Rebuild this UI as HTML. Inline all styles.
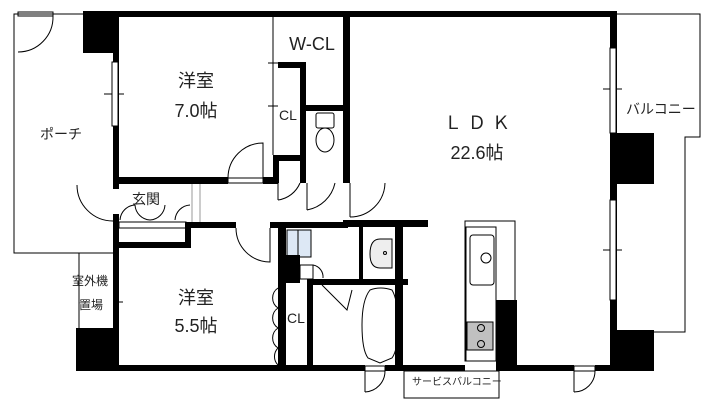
<!DOCTYPE html>
<html><head><meta charset="utf-8"><style>
body{margin:0;background:#fff;}
svg{display:block;}
text{font-family:"Liberation Sans","Noto Sans CJK JP",sans-serif;fill:#222;}
</style></head><body>
<svg width="713" height="410" viewBox="0 0 713 410" xmlns="http://www.w3.org/2000/svg">
<rect width="713" height="410" fill="#fff"/>
<g fill="none" stroke="#000" stroke-width="1">
 <!-- porch outline -->
 <path d="M83 14 H14 V253 H113"/>
 <path d="M79 253 V330"/>
 <!-- balcony outline -->
 <path d="M617 14 H700 V137 H685 V332 H654"/>
 <!-- service balcony -->
 <rect x="404" y="371" width="95" height="27"/>
 <!-- porch door -->
 <rect x="18" y="12" width="35" height="4"/>
 <path d="M18 52 A35 35 0 0 0 53 16"/>
 <!-- entry doors -->
 <path d="M77 185 A36 36 0 0 0 113 221"/>
 <!-- 7.0 door -->
 <rect x="228" y="178" width="35" height="5" fill="#fff"/>
 <path d="M228 178 A35 35 0 0 1 263 143 V178"/>
 <!-- 5.5 door -->
 <path d="M236 228 A34 34 0 0 0 270 262 V228"/>
 <!-- hallway doors -->
 <path d="M278 200 V183 M278 200 A28 28 0 0 0 300 183"/>
 <path d="M307 210 V183 M307 210 A35 35 0 0 0 335 183"/>
 <path d="M350 217 V183 M350 217 A35 35 0 0 0 385 183"/>
 <path d="M200 183 V222 M192 183 V222" stroke="#999"/>
 <!-- genkan shoe doors -->
 <path d="M120 220 A16 16 0 0 1 135 205 M165 205 A16 16 0 0 1 150 220 M150 220 A16 16 0 0 1 135 205 M175 220 A16 16 0 0 1 190 205"/>
 <rect x="119" y="222" width="67" height="6"/>
 <!-- W-CL thin line -->
 <path d="M273 17 V155"/>
 <path d="M268 63 H278 M268 106 H278"/>
 <!-- window ticks -->
 <path d="M104 94 H124 M603 89 H622 M603 250 H622 M113 302 H123"/>
 <!-- CL closet doors 5.5 -->
 <path d="M285 288 V365 M278 328 H285"/>
 <path d="M278 288 A12 12 0 0 0 278 308 M278 308 A12 12 0 0 0 278 328 M278 328 A12 12 0 0 0 278 348 M278 348 A12 12 0 0 0 278 365"/>
 <!-- kitchen -->
 <rect x="465" y="221" width="50" height="140"/>
 <rect x="466" y="227" width="30" height="134"/>
 <rect x="470" y="235" width="24" height="50" rx="3"/>
 <circle cx="486" cy="258" r="5"/>
 <rect x="467" y="322" width="26" height="28" fill="#c0c0c0"/>
 <circle cx="481" cy="328" r="3.5"/><circle cx="481" cy="344" r="3.5"/>
 <!-- wash basin -->
 <path d="M380 239 H392 V268 H380 Q370 268 370 254 Q370 239 380 239Z" fill="#eee"/>
 <circle cx="385" cy="253" r="1.5"/>
 <!-- bath -->
 <path d="M370 290 Q380 286 392 290 Q398 300 398 325 Q398 350 392 358 L380 363 L368 358 Q362 350 362 325 Q362 300 370 290Z"/>
 <!-- bath door -->
 <path d="M322 285 L347 310 L352 290"/>
 <!-- toilet -->
 <rect x="316" y="113" width="18" height="15" rx="2"/>
 <ellipse cx="325" cy="140" rx="9" ry="12"/>
 <!-- washer -->
 <rect x="287" y="230" width="24" height="27" fill="#dde8f5"/>
 <path d="M298 230 V257 M311 232 V257"/>
 <rect x="300" y="265" width="13" height="14"/>
 <path d="M313 265 A12 12 0 0 1 323 278"/>
 <!-- bottom doors -->
 <rect x="365" y="366" width="20" height="5" fill="#fff"/>
 <path d="M365 392 V371 M365 392 A21 21 0 0 0 385 371"/>
 <rect x="574" y="366" width="21" height="5" fill="#fff"/>
 <path d="M574 392 V371 M574 392 A21 21 0 0 0 595 371"/>
</g>
<g fill="#000">
 <!-- outer top wall -->
 <rect x="83" y="11" width="534" height="6"/>
 <rect x="83" y="11" width="35" height="42"/>
 <!-- left wall upper -->
 <rect x="113" y="11" width="6" height="178"/>
 <!-- 7.0 bottom wall -->
 <rect x="113" y="177" width="115" height="7"/>
 <rect x="263" y="177" width="15" height="7"/>
 <!-- CL walls -->
 <rect x="278" y="62" width="28" height="6"/>
 <rect x="300" y="62" width="6" height="121"/>
 <rect x="305" y="105" width="45" height="6"/>
 <rect x="273" y="155" width="32" height="6"/>
 <rect x="273" y="155" width="6" height="28"/>
 <rect x="343" y="11" width="7" height="172"/>
 <!-- genkan walls -->
 <rect x="113" y="214" width="6" height="157"/>
 <rect x="119" y="242" width="72" height="6"/>
 <rect x="185" y="222" width="6" height="26"/>
 <rect x="185" y="222" width="51" height="6"/>
 <rect x="270" y="222" width="78" height="6"/>
 <!-- 5.5 right walls -->
 <rect x="278" y="222" width="8" height="143"/>
 <rect x="278" y="255" width="22" height="28"/>
 <rect x="307" y="279" width="6" height="86"/>
 <rect x="307" y="279" width="101" height="6"/>
 <rect x="343" y="220" width="85" height="7"/>
 <rect x="395" y="227" width="8" height="144"/>
 <rect x="359" y="227" width="4" height="55"/>
 <!-- bottom -->
 <rect x="76" y="328" width="42" height="43"/>
 <rect x="76" y="365" width="289" height="6"/>
 <rect x="385" y="365" width="80" height="6"/>
 <rect x="496" y="300" width="21" height="71"/>
 <rect x="496" y="365" width="78" height="6"/>
 <rect x="595" y="365" width="17" height="6"/>
 <!-- right wall -->
 <rect x="610" y="11" width="7" height="360"/>
 <rect x="612" y="133" width="42" height="51"/>
 <rect x="612" y="330" width="42" height="41"/>
</g>
<!-- windows -->
<g fill="#fff" stroke="#000">
 <rect x="112" y="62" width="6" height="64"/>
 <rect x="610" y="48" width="6" height="85"/>
 <rect x="610" y="200" width="6" height="100"/>
</g>
<g font-size="18" text-anchor="middle">
 <text x="196" y="87">洋室</text>
 <text x="196" y="117">7.0帖</text>
 <text x="196" y="304">洋室</text>
 <text x="196" y="332">5.5帖</text>
 <text x="480" y="129" letter-spacing="6">ＬＤＫ</text>
 <text x="477" y="159">22.6帖</text>
 <text x="312" y="50">W-CL</text>
</g>
<g font-size="14">
 <text x="40" y="139">ポーチ</text>
 <text x="132" y="204">玄関</text>
 <text x="279" y="120">CL</text>
 <text x="287" y="323">CL</text>
 <text x="626" y="114">バルコニー</text>
 <text x="72" y="285" font-size="12">室外機</text>
 <text x="79" y="309" font-size="12">置場</text>
 <text x="412" y="385" font-size="10">サービスバルコニー</text>
</g>
</svg>
</body></html>
